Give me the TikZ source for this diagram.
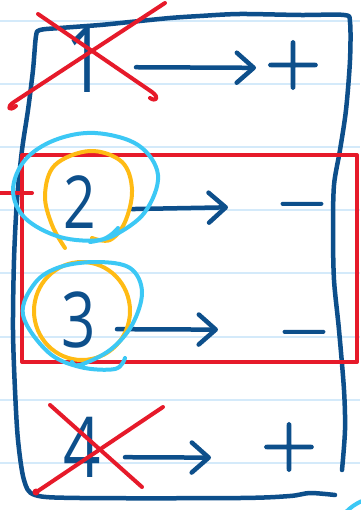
\documentclass[tikz,border=0pt]{standalone}
\usepackage{fontspec}
\setsansfont{Open Sans}
\newfontfamily\signfont{lmsans10-regular.otf}[FakeBold=2.5]
\usetikzlibrary{arrows.meta}
\definecolor{inkblue}{RGB}{13,79,139}
\definecolor{penred}{RGB}{230,26,42}
\definecolor{penyellow}{RGB}{255,187,20}
\definecolor{pencyan}{RGB}{60,200,245}
\definecolor{ruled}{RGB}{212,234,250}
\newcommand\squeezed[1]{\scalebox{0.78}[1]{#1}}
\tikzset{
  ink/.style={draw=inkblue, line width=4.5pt, line cap=round, line join=round},
  redpen/.style={draw=penred, line width=4pt, line cap=round, line join=round},
  yelpen/.style={draw=penyellow, line width=4pt, line cap=round, line join=round},
  cyanpen/.style={draw=pencyan, line width=4pt, line cap=round, line join=round},
  num/.style={inner sep=0pt, text=inkblue, font=\sffamily\fontsize{#1}{#1}\selectfont},
  sgn/.style={inner sep=0pt, text=inkblue, font=\signfont\fontsize{#1}{#1}\selectfont},
  arr/.style={ink, -{Straight Barb[length=17pt,width=30pt,round]}},
}
\begin{document}
\begin{tikzpicture}[x=1pt,y=-1pt]
  \useasboundingbox (0,0) rectangle (360,510);
  \fill[white] (0,0) rectangle (360,510);
  % ruled paper
  \foreach \yy in {21,84,147,210,273,337,400,463}
    \draw[ruled, line width=1.5pt] (0,\yy) -- (360,\yy);
  % hand drawn frame
  \draw[ink] plot[smooth, tension=0.5] coordinates {(342,470) (345,430) (344,390) (339,330) (334,280)
    (333,230) (334,185) (340,150) (346,110) (350,60) (350,22) (344,15) (300,15) (240,14)
    (200,16) (170,18) (130,22) (100,25) (60,28) (40,30) (36,36) (33,70) (28,110) (22,150)
    (17,200) (14,260) (13,330) (15,390) (18,440) (24,480) (35,495) (80,498) (240,498)
    (290,496) (310,493) (335,495)};
  % rows
  \node[num=91] (n1) at (86,60) {\squeezed{1}};
  \node[num=73] (n2) at (80,202) {\squeezed{2}};
  \node[num=77] (n3) at (79,320) {\squeezed{3}};
  \node[num=84] (n4) at (82,447) {\squeezed{4}};
  \node[sgn=72] (s1) at (293,65) {+};
  \node[sgn=62] (s2) at (302,211) {−};
  \node[sgn=62] (s3) at (304,339) {−};
  \node[sgn=72] (s4) at (289,447) {+};
  \draw[arr, shorten <=50pt, shorten >=37pt] ([yshift=-7pt]n1.center) -- ([yshift=-3pt]s1.center);
  \draw[arr, shorten <=52pt, shorten >=74pt] ([yshift=-8pt]n2.center) -- ([yshift=5pt]s2.center);
  \draw[arr, shorten <=38pt, shorten >=86pt] ([yshift=-9pt]n3.center) -- ([yshift=9pt]s3.center);
  \draw[arr, shorten <=43pt, shorten >=78pt] ([yshift=-10pt]n4.center) -- ([yshift=-11pt]s4.center);
  % red box round the negative rows
  \draw[redpen] (22,155) rectangle (357,362);
  \draw[redpen] (0,193) -- (32,193);
  % yellow circles
  \draw[yelpen] plot[smooth, tension=0.6] coordinates {(65,248) (52,225) (45,195) (55,165) (90,151)
    (122,162) (132,190) (125,222) (110,240) (92,238)};
  \draw[yelpen] (82,311) ellipse [x radius=48, y radius=49];
  % cyan circles
  \draw[cyanpen] plot[smooth, tension=0.6] coordinates {(118,228) (100,240) (60,237) (25,218) (13,190)
    (25,160) (55,140) (95,133) (138,145) (158,175) (145,212) (115,235) (90,242)};
  \draw[cyanpen] plot[smooth, tension=0.6] coordinates {(125,358) (115,369) (80,367) (48,352) (23,315)
    (35,283) (60,267) (97,262) (130,268) (142,292) (132,325) (110,350) (80,365) (72,362)};
  \draw[cyanpen] (346,512) to[bend left=10] (362,501);
  % crossed out rows
  \draw[redpen] (38,14) -- (152,92) .. controls (160,98) and (156,102) .. (150,98);
  \draw[redpen] (165,3) -- (14,102) .. controls (6,107) and (9,112) .. (16,106);
  \draw[redpen] (50,405) -- (142,487);
  \draw[redpen] (163,407) -- (35,493);
  \fill[penred] (36,492) circle (3.5pt);
\end{tikzpicture}
\end{document}
